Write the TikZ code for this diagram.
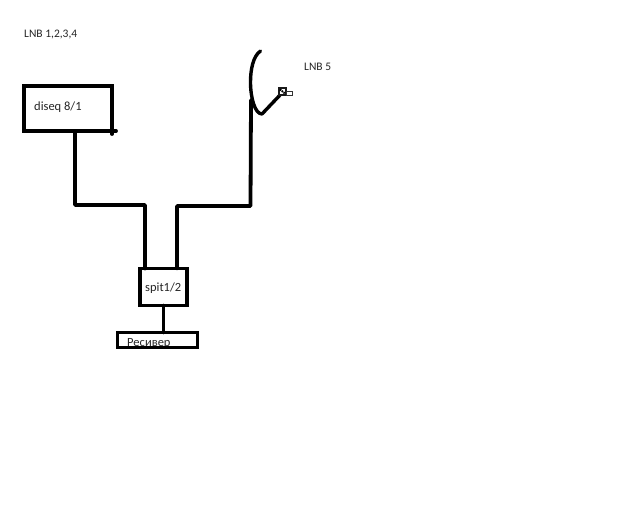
\documentclass[tikz,border=0pt]{standalone}
\usepackage{fontspec}
\setmainfont{Carlito}
\tikzset{
  wire/.style={line width=3.8pt,black,line join=round,line cap=round},
  thinwire/.style={line width=3.4pt,black,line cap=round,line join=round},
  boxnode/.style={draw=black,line width=3.8pt,outer sep=0pt,inner sep=0pt,anchor=north west},
  lbl/.style={font=\fontsize{11.5pt}{13pt}\selectfont,text=black!85,inner sep=0pt,anchor=base west},
  lblbig/.style={lbl,font=\fontsize{12.5pt}{14pt}\selectfont},
}
\begin{document}
\begin{tikzpicture}[x=1pt,y=-1pt]
\useasboundingbox[fill=white] (0,0) rectangle (640,512);
% boxes
\node[boxnode,minimum width=88pt,minimum height=45pt] (diseq) at (24,86) {};
\node[boxnode,minimum width=47pt,minimum height=37pt] (split) at (140,268.5) {};
% routing points
\coordinate (d1) at (75,205);
\coordinate (s1) at (145,205);
\coordinate (s2) at (177,206);
\coordinate (m1) at (250.5,206);
\coordinate (m2) at (251,100);
\coordinate (dishbottom) at (262,114);
\coordinate (dishtop) at (260.5,51);
\coordinate (arm) at (281,94);
\coordinate (over) at (116,131);
\coordinate (tick) at (112,134);
\coordinate (dl) at (75,131);
\coordinate (sl) at (145,268.5);
\coordinate (sr) at (177,268.5);
% connectors
\draw[wire] (dl) -- (d1) -- (s1) -- (sl);
\draw[wire] (sr) -- (s2) -- (m1) -- (m2);
\draw[wire] (diseq.south east) -- (over);
\draw[wire] (diseq.south east) -- (tick);
% dish
\draw[thinwire] (dishtop) .. controls (253,56) and (250.5,70) .. (250.5,82)
  .. controls (250.5,98) and (255,114) .. (dishbottom) -- (arm);
% feed horn
\draw[line width=2pt,black!90,fill=white] (279,87.5) rectangle (285.5,94.5);
\draw[line width=2pt,black,dash pattern=on 1.5pt off 0.8pt] (280,89.5) -- (285,93.5);
\draw[line width=1.7pt,black!80,fill=white] (286.5,91.5) rectangle (292.5,95.5);
% receiver text lies under the border
\node[lblbig] (rectext) at (127,346) {Ресивер};
\node[boxnode,minimum width=80pt,minimum height=15pt] (recv) at (117.5,332.5) {};
\draw[wire] (split.south) -- (split.south |- recv.north);
% labels
\node[lbl] (l1) at (24,37) {LNB 1,2,3,4};
\node[lbl] (l2) at (304,70) {LNB 5};
\node[lblbig] (l3) at (34,110) {diseq 8/1};
\node[lblbig] (l4) at (145,291) {spit1/2};
\end{tikzpicture}
\end{document}
